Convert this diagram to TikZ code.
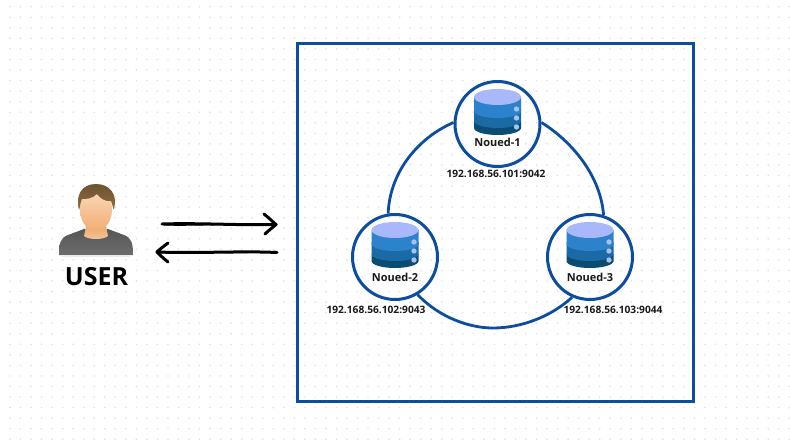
\documentclass[tikz,border=0pt]{standalone}
\usepackage{fontspec}
\setmainfont{Open Sans}
\usetikzlibrary{shapes.geometric}
\definecolor{ringblue}{HTML}{0C4DA2}
\definecolor{dotgrey}{HTML}{E2E2E2}
\definecolor{dbtop}{HTML}{A9B8FA}
\definecolor{dbone}{HTML}{2C83CB}
\definecolor{dbtwo}{HTML}{1A6AA6}
\definecolor{dbthree}{HTML}{0A4C72}
\definecolor{dbdot}{HTML}{A8C2F0}
\definecolor{hairtop}{HTML}{6E5230}
\definecolor{hairlow}{HTML}{8F7040}
\definecolor{skintop}{HTML}{FBD9BC}
\definecolor{skinlow}{HTML}{F2AE72}
\definecolor{bodytop}{HTML}{555555}
\definecolor{bodylow}{HTML}{6E6E6E}
\newcommand{\dbicon}[2]{%
 \begin{scope}[shift={(#1,#2)}]
  \fill[dbthree] (-23.5,-3) -- (-23.5,4) arc[start angle=180,end angle=0,x radius=23.5,y radius=7] -- (23.5,-3) -- cycle;
  \fill[dbtwo] (-23.5,-15) -- (-23.5,-3) arc[start angle=180,end angle=0,x radius=23.5,y radius=7] -- (23.5,-15) -- cycle;
  \fill[dbone] (-23.5,-27) -- (-23.5,-13) arc[start angle=180,end angle=0,x radius=23.5,y radius=7] -- (23.5,-27) -- cycle;
  \fill[dbtop] (0,-27) ellipse[x radius=23.5,y radius=8];
  \fill[dbdot] (19,-15) circle[radius=2.7] (19,-6) circle[radius=2.7] (19,3) circle[radius=2.7];
 \end{scope}}
\tikzset{
 dbnode/.style={circle,draw=ringblue,line width=3pt,minimum size=85pt,inner sep=0pt},
 ring/.style={draw=ringblue,line width=2.8pt},
 nodelabel/.style={font=\fontsize{11}{12}\selectfont\bfseries,text=black!90,inner sep=0pt},
 iplabel/.style={font=\fontsize{10.2}{11}\selectfont\bfseries,text=black!90,inner sep=0pt},
 sketch/.style={draw=black,line width=3pt,line cap=round,line join=round}
}
\begin{document}
\begin{tikzpicture}[x=1pt,y=-1pt]
\useasboundingbox (0,0) rectangle (790,444);
\fill[white] (0,0) rectangle (790,444);
\foreach \i in {0,...,74} \foreach \j in {0,...,41}
 \fill[dotgrey] ({10+10.53*\i},{6.7+10.55*\j}) circle[radius=0.9];
\node[draw=ringblue,line width=3pt,minimum width=396pt,minimum height=357pt,inner sep=0pt] (box) at (495,222.5) {};
\dbicon{497.5}{124}
\dbicon{395}{257}
\dbicon{590}{257}
\node[dbnode] (n1) at (497.5,124) {};
\node[dbnode] (n2) at (395,257) {};
\node[dbnode] (n3) at (590,257) {};
\draw[ring] (n1.178) .. controls (420,137) and (390,170) .. (n2.99);
\draw[ring] (n1.2) .. controls (565,137) and (600,170) .. (n3.72);
\draw[ring] (n2.-59) .. controls (440,318) and (470,328) .. (493,328) .. controls (522,328) and (552,316) .. (n3.-114);
\node[nodelabel] (t1) at (497.5,142) {Noued-1};
\node[nodelabel] (t2) at (395,277) {Noued-2};
\node[nodelabel] (t3) at (590,277) {Noued-3};
\node[iplabel] (ip1) at (496,174) {192.168.56.101:9042};
\node[iplabel] (ip2) at (376,310) {192.168.56.102:9043};
\node[iplabel] (ip3) at (613,310) {192.168.56.103:9044};
% user
\shade[top color=bodytop,bottom color=bodylow] (59,255) .. controls (59,244) and (60,238) .. (68,235) -- (84,229) -- (108,229) -- (124,235) .. controls (132,238) and (133,244) .. (133,255) -- cycle;
\fill[black!8] (62,255) rectangle (130,256.5);
\shade[top color=skinlow!85!brown,bottom color=skinlow!70!white] (86,226) -- (106,226) -- (108,236) .. controls (104,240) and (88,240) .. (84,236) -- cycle;
\shade[top color=skintop,bottom color=skinlow] (96,189) .. controls (108,189) and (112,200) .. (112,210) .. controls (112,222) and (104,231) .. (96,231) .. controls (88,231) and (80,222) .. (80,210) .. controls (80,200) and (84,189) .. (96,189) -- cycle;
\shade[top color=hairtop,bottom color=hairlow] (79,210) .. controls (75,195) and (82,184) .. (96,184) .. controls (110,184) and (118,195) .. (114,209) .. controls (113,211) and (113,205) .. (111,201) .. controls (105,202) and (100,198) .. (97,194) .. controls (92,199) and (86,199) .. (82,199) .. controls (80,203) and (80,209) .. (79,210) -- cycle;
\node[font=\fontsize{25}{28}\selectfont\bfseries,inner sep=0pt] (user) at (96.5,277) {USER};
% arrows
\coordinate (a1s) at (162,224);
\coordinate (a1e) at (276,224.5);
\coordinate (a2s) at (277,252.5);
\coordinate (a2e) at (157,252);
\draw[sketch] (a1s) .. controls (200,222.8) and (240,225.5) .. (a1e);
\draw[sketch,line width=1.2pt] (164,225) .. controls (200,225.8) and (230,223.5) .. (272,224);
\draw[sketch] (264,214) .. controls (269,218) and (273,222) .. (a1e) .. controls (272,228) and (268,231) .. (265,234);
\draw[sketch] (a2s) .. controls (240,250.8) and (200,253.5) .. (a2e);
\draw[sketch,line width=1.2pt] (275,251.5) .. controls (235,253.8) and (200,251) .. (160,252.8);
\draw[sketch] (168,243) .. controls (164,246) and (160,249) .. (a2e) .. controls (160,255) and (164,259) .. (168,262);
\end{tikzpicture}
\end{document}
